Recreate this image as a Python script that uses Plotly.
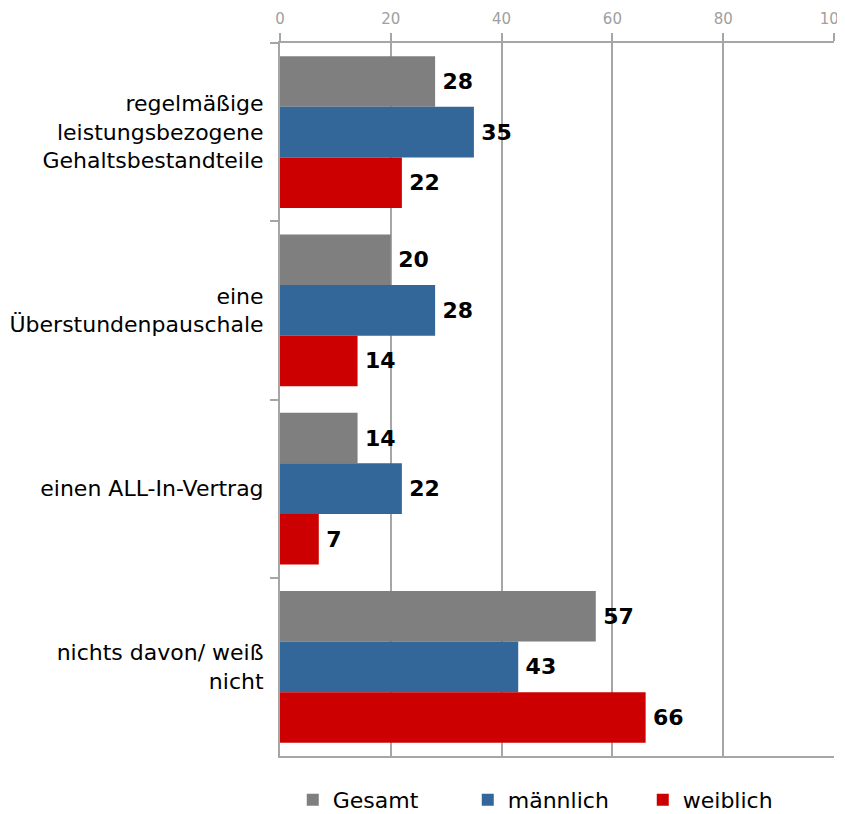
import plotly.graph_objects as go

categories = ["regelmäßige<br>leistungsbezogene<br>Gehaltsbestandteile",
              "eine<br>Überstundenpauschale",
              "einen ALL-In-Vertrag",
              "nichts davon/ weiß<br>nicht"]
gesamt = [28, 20, 14, 57]
maennlich = [35, 28, 22, 43]
weiblich = [22, 14, 7, 66]
series_names = ["Gesamt", "männlich", "weiblich"]
colors = ["#7f7f7f", "#336699", "#cc0000"]

fig = go.Figure()
for name, vals, col in zip(series_names, [gesamt, maennlich, weiblich], colors):
    fig.add_trace(go.Bar(
        y=categories, x=vals, name=name, orientation="h",
        marker=dict(color=col, line=dict(width=0)),
        text=["\u2009" + str(v) for v in vals], textposition="outside",
        textfont=dict(family="DejaVu Sans", size=22, color="black", weight="bold"),
        cliponaxis=False,
    ))

fig.update_layout(
    barmode="group", bargap=0.15, bargroupgap=0,
    width=845, height=814,
    margin=dict(l=272, r=19, t=35, b=66, autoexpand=False),
    plot_bgcolor="white", paper_bgcolor="white",
    font=dict(family="DejaVu Sans", color="black"),
    legend=dict(orientation="h", x=0.337, xref="container", y=0.027, yref="container",
                xanchor="left", yanchor="middle",
                font=dict(size=22, family="DejaVu Sans"), entrywidth=130,
                itemwidth=30, traceorder="normal"),
    xaxis=dict(range=[0, 100], side="top", dtick=20, showgrid=True,
               gridcolor="#a6a6a6", gridwidth=2, showline=True, linecolor="#a6a6a6",
               linewidth=2, mirror=True, ticks="outside", ticklen=8,
               tickcolor="#a6a6a6", tickwidth=2, ticklabeloverflow="allow",
               ticklabelstandoff=3,
               tickfont=dict(size=15, color="#a0a0a0"), zeroline=False),
    yaxis=dict(autorange="reversed", showline=True, linecolor="#a6a6a6", linewidth=2,
               ticks="outside", tickson="boundaries", ticklen=8, tickcolor="#a6a6a6",
               tickwidth=2, tickfont=dict(size=22, color="black"), ticklabelstandoff=10),
)

fig.write_html("out.html")
